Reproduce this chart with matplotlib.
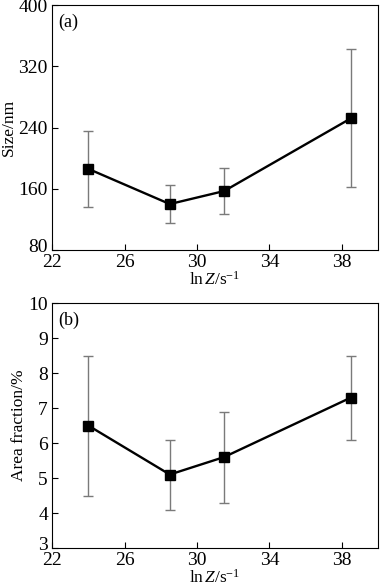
import numpy as np
import matplotlib
matplotlib.use('Agg')
import matplotlib.pyplot as plt
import matplotlib.transforms as mtransforms

plt.rcParams['font.family'] = 'Liberation Serif'
plt.rcParams['mathtext.fontset'] = 'custom'
plt.rcParams['mathtext.rm'] = 'Liberation Serif'
plt.rcParams['mathtext.it'] = 'Liberation Serif:italic'
plt.rcParams['font.size'] = 12

ln_z = [24.0, 28.5, 31.5, 38.5]
size_nm = [186, 140, 157, 252]
size_err = [50, 25, 30, 90]
area_frac = [6.5, 5.1, 5.6, 7.3]
area_err = [2.0, 1.0, 1.3, 1.2]

x_ticks = [22, 26, 30, 34, 38]
xlabel = r'ln$\,Z$/s$^{-1}$'

fig = plt.figure(figsize=(3.8, 5.86), dpi=100)
ax_a = fig.add_axes([0.137, 0.5734, 0.858, 0.418])
ax_b = fig.add_axes([0.137, 0.0648, 0.858, 0.418])

panels = [
    (ax_a, size_nm, size_err, 'Size/nm', (80, 400), [80, 160, 240, 320, 400], '(a)'),
    (ax_b, area_frac, area_err, 'Area fraction/%', (3, 10), [3, 4, 5, 6, 7, 8, 9, 10], '(b)'),
]

for ax, y, err, ylab, ylim, yticks, tag in panels:
    ax.errorbar(ln_z, y, yerr=err, fmt='none', ecolor='#7a7a7a',
                elinewidth=1.0, capsize=3.5, capthick=1.0, zorder=2)
    ax.plot(ln_z, y, color='black', lw=1.7, marker='s', ms=6.5, zorder=3)
    ax.set_xlim(22, 40)
    ax.set_ylim(*ylim)
    ax.set_xticks(x_ticks)
    ax.set_yticks(yticks)
    ax.tick_params(direction='in', length=4, width=0.8, labelsize=14)
    ax.tick_params(axis='x', pad=3)
    ax.tick_params(axis='y', pad=3)
    ax.set_xlabel(xlabel, fontsize=12.5, labelpad=0)
    ax.set_ylabel(ylab, fontsize=12.5, labelpad=1)
    ax.text(0.018, 0.965, tag, transform=ax.transAxes, fontsize=13,
            ha='left', va='top')
    # nudge the lowest y label up a little so it clears the x labels
    lab = ax.get_yticklabels()[0]
    lab.set_transform(lab.get_transform() +
                      mtransforms.ScaledTranslation(0, 3 / 72, fig.dpi_scale_trans))
    for s in ax.spines.values():
        s.set_linewidth(0.8)

fig.savefig('out.png', dpi=100)
